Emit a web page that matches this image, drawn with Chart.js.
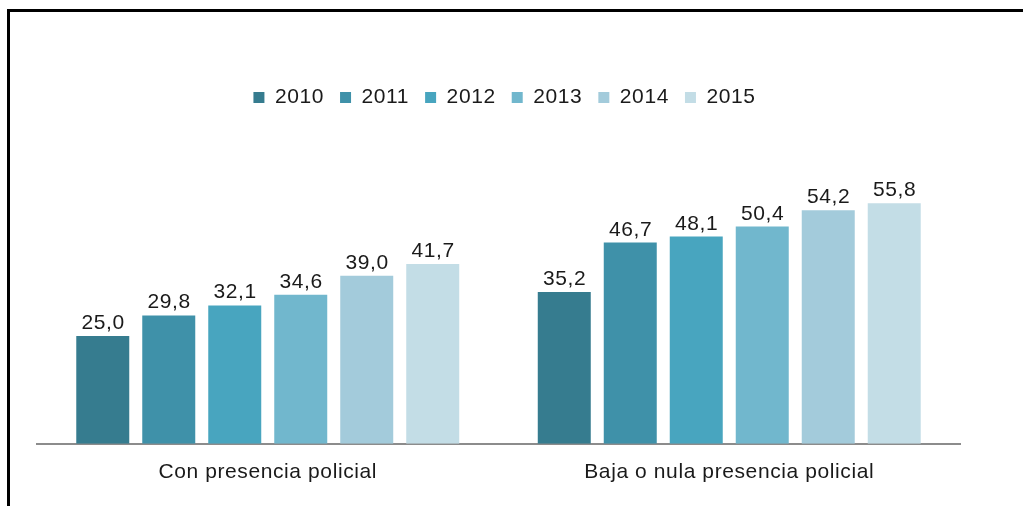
<!DOCTYPE html>
<html>
<head>
<meta charset="utf-8">
<script src="https://cdn.jsdelivr.net/npm/chart.js@4.4.1/dist/chart.umd.min.js"></script>
<style>
  html, body { margin: 0; padding: 0; background: #fff; }
  #wrap { position: relative; width: 1023px; height: 506px; overflow: hidden; }
  #c { position: absolute; left: 0; top: 0; }
  .frame-left { position: absolute; left: 7px; top: 9px; width: 3px; height: 497px; background: #000; }
  .frame-top { position: absolute; left: 7px; top: 9px; width: 1016px; height: 3px; background: #000; }
</style>
</head>
<body>
<div id="wrap">
  <canvas id="c" width="1023" height="506"></canvas>
  <div class="frame-left"></div>
  <div class="frame-top"></div>
</div>
<script>
const categories = ["Con presencia policial", "Baja o nula presencia policial"];
const years = ["2010", "2011", "2012", "2013", "2014", "2015"];
const v2010 = [25.0, 35.2];
const v2011 = [29.8, 46.7];
const v2012 = [32.1, 48.1];
const v2013 = [34.6, 50.4];
const v2014 = [39.0, 54.2];
const v2015 = [41.7, 55.8];
const seriesValues = [v2010, v2011, v2012, v2013, v2014, v2015];
const colors = ["#367C8F", "#3F91A9", "#48A5BF", "#71B7CD", "#A3CBDB", "#C3DDE6"];

const FONT = "'Liberation Sans', Arial, sans-serif";
const SPACING = "0.6px";
const FSIZE = 21;

const spacingPlugin = {
  id: 'spacing',
  beforeLayout(chart) { chart.ctx.letterSpacing = SPACING; },
  afterLayout(chart) {
    if (chart.legend) { chart.legend.left += 6; chart.legend.right += 6; }
  },
  beforeDraw(chart) { chart.ctx.letterSpacing = SPACING; },
  beforeDatasetsDraw(chart) { chart.ctx.letterSpacing = SPACING; }
};

const labelPlugin = {
  id: 'barLabels',
  afterDatasetsDraw(chart) {
    const ctx = chart.ctx;
    ctx.save();
    ctx.letterSpacing = SPACING;
    ctx.font = FSIZE + "px " + FONT;
    ctx.fillStyle = "#1a1a1a";
    ctx.textAlign = "center";
    ctx.textBaseline = "alphabetic";
    chart.data.datasets.forEach((ds, di) => {
      const meta = chart.getDatasetMeta(di);
      meta.data.forEach((bar, i) => {
        const txt = ds.data[i].toFixed(1).replace('.', ',');
        ctx.fillText(txt, bar.x + 0.3, bar.y - 7);
      });
    });
    ctx.restore();
  }
};

new Chart(document.getElementById('c'), {
  type: 'bar',
  data: {
    labels: categories,
    datasets: years.map((y, i) => ({
      label: y,
      data: seriesValues[i],
      backgroundColor: colors[i],
      borderWidth: 0,
      categoryPercentage: 0.858,
      barPercentage: 0.803
    }))
  },
  options: {
    responsive: false,
    animation: false,
    devicePixelRatio: 1,
    layout: { padding: { left: 37, right: 63, top: 71, bottom: 13 } },
    plugins: {
      legend: {
        display: true,
        position: 'top',
        labels: {
          boxWidth: 11,
          boxHeight: 11,
          padding: 16,
          color: "#1a1a1a",
          font: { size: FSIZE, family: FONT }
        }
      },
      tooltip: { enabled: false }
    },
    scales: {
      x: {
        grid: { display: false },
        border: { display: true, color: "#8c8c8c", width: 2 },
        ticks: { color: "#1a1a1a", font: { size: FSIZE, family: FONT }, padding: 8 }
      },
      y: {
        display: false,
        min: 0,
        max: 75.6
      }
    }
  },
  plugins: [spacingPlugin, labelPlugin]
});
</script>
</body>
</html>
